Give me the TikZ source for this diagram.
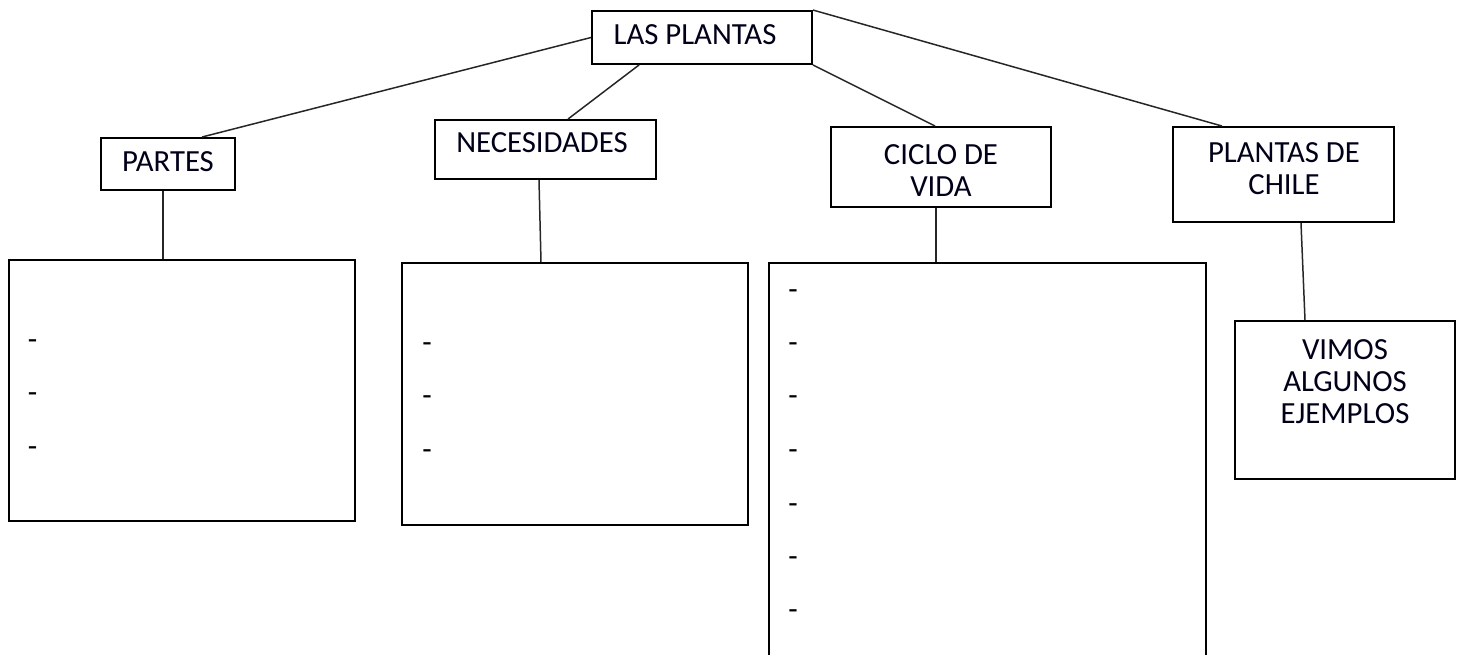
\documentclass[tikz,border=0pt]{standalone}
\usepackage{fontspec}
\setmainfont{Carlito}
\usetikzlibrary{calc}

\tikzset{box/.style={draw,line width=1.1pt,rectangle,inner sep=0pt},
label text/.style={font=\fontsize{17.5}{18.2}\selectfont,align=center,inner sep=0pt,text=black!90!blue},
dash item/.style={font=\fontsize{17.5}{18.2}\selectfont,inner sep=0pt,yshift=-0.1cm},
link/.style={line width=0.85pt,draw=black!85}}

\begin{document}
\begin{tikzpicture}[x=0.02cm,y=-0.02cm]
\useasboundingbox (0,0) rectangle (1465,655);
\clip (0,0) rectangle (1465,655);

%% boxes
\node [box,minimum width=4.40cm,minimum height=1.06cm] (root) at (702,37.5) {};
\node [box,minimum width=2.68cm,minimum height=1.04cm] (partes) at (168,164) {};
\node [box,minimum width=4.42cm,minimum height=1.18cm] (necesidades) at (545.5,149.5) {};
\node [box,minimum width=4.40cm,minimum height=1.60cm] (ciclo) at (941,167) {};
\node [box,minimum width=4.42cm,minimum height=1.90cm] (chile) at (1283.5,174.5) {};
\node [box,minimum width=6.92cm,minimum height=5.22cm] (lista1) at (182,390.5) {};
\node [box,minimum width=6.92cm,minimum height=5.24cm] (lista2) at (575,394) {};
\node [box,minimum width=8.74cm,minimum height=8.74cm] (lista3) at (987.5,481.5) {};
\node [box,minimum width=4.40cm,minimum height=3.16cm] (lista4) at (1345,400) {};

%% connectors
\draw [link] (root.west) -- ($(partes.north)+(34,0)$);
\draw [link] ($(root.south west)+(48,0)$) -- ($(necesidades.north)+(22.5,0)$);
\draw [link] (root.south east) -- ($(ciclo.north)+(-6,0)$);
\draw [link] (root.north east) -- ($(chile.north)+(-61.5,0)$);
\draw [link] ($(partes.south)+(-5,0)$) -- ($(lista1.north)+(-19,0)$);
\draw [link] ($(necesidades.south)+(-6.5,0)$) -- ($(lista2.north)+(-34,0)$);
\draw [link] ($(ciclo.south)+(-5,0)$) -- ($(lista3.north)+(-51.5,0)$);
\draw [link] ($(chile.south)+(17.5,0)$) -- ($(lista4.north)+(-40,0)$);

%% labels
\node [label text] (troot) at (695,35) {LAS PLANTAS};
\node [label text] (tpartes) at (168,162) {PARTES};
\node [label text] (tnecesidades) at (542,143) {NECESIDADES};
\node [label text] (tciclo) at (941,171) {CICLO DE\\VIDA};
\node [label text] (tchile) at (1284,169) {PLANTAS DE\\CHILE};
\node [label text] (tlista4) at (1345,382) {VIMOS\\ALGUNOS\\EJEMPLOS};

%% dashes
\foreach \y [count=\i] in {340,393,446.5}
  \node [dash item] (da\i) at (32.5,\y) {-};
\foreach \y [count=\i] in {343,396,449.5}
  \node [dash item] (db\i) at (427,\y) {-};
\foreach \y [count=\i] in {290,343,396,450,503.5,557,610}
  \node [dash item] (dc\i) at (793,\y) {-};

\end{tikzpicture}
\end{document}
